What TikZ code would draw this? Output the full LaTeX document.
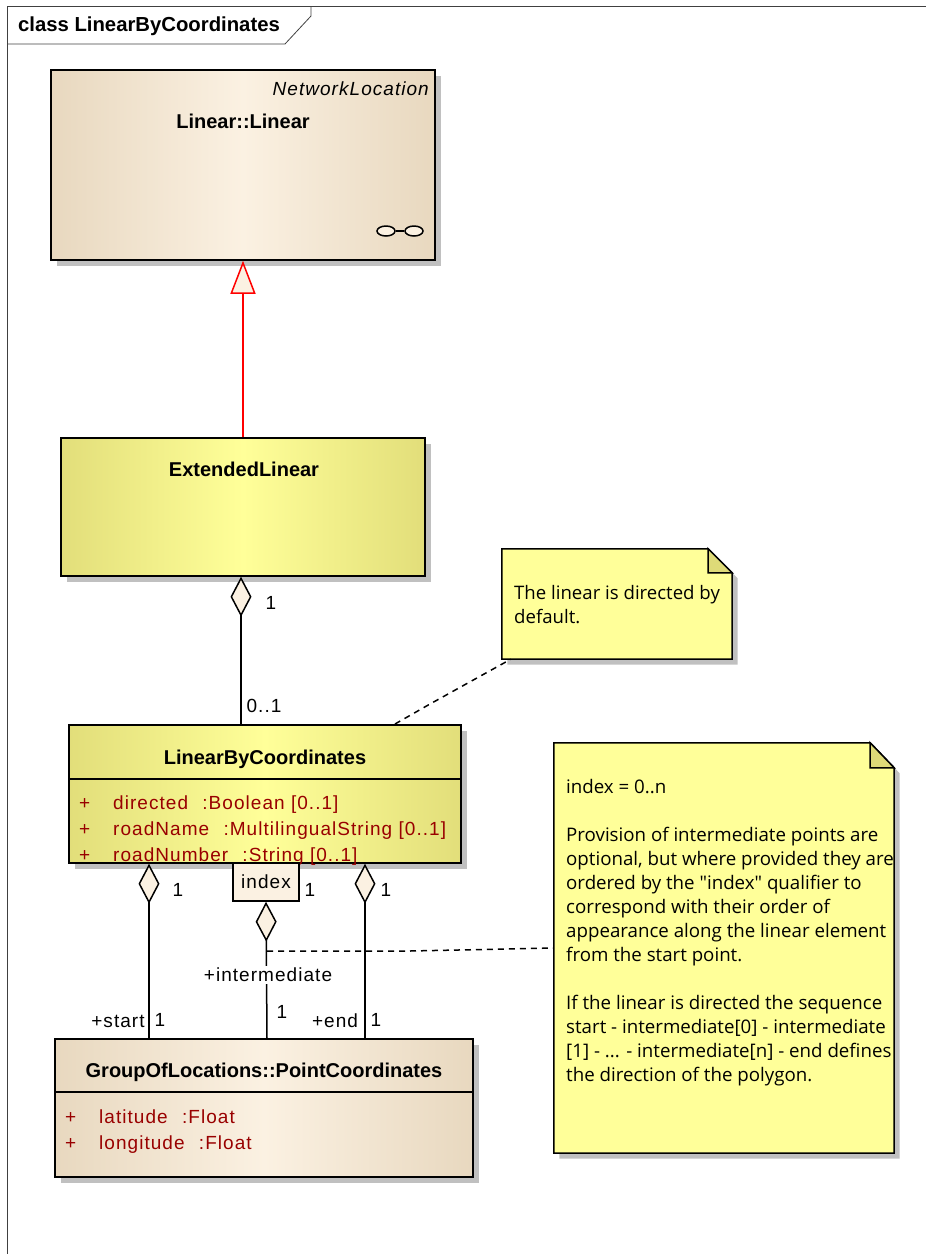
\documentclass[tikz,border=0pt]{standalone}
\usepackage{fontspec}
\setmainfont{Liberation Sans}
\newfontfamily\umlfont[LetterSpace=5.5]{Liberation Sans}
\newfontfamily\notefont{Open Sans}
\usetikzlibrary{arrows.meta,calc,shapes.geometric}
\definecolor{sand}{HTML}{E8D8BF}
\definecolor{cream}{HTML}{FBF1E2}
\definecolor{dullyellow}{HTML}{E2DE7A}
\definecolor{lemon}{HTML}{FFFF99}
\definecolor{foldy}{HTML}{DEDA78}
\definecolor{attrred}{HTML}{990000}
\definecolor{shadowgray}{HTML}{C0C0C0}
\definecolor{framegray}{HTML}{404040}
\begin{document}
\begin{tikzpicture}[x=1pt,y=-1pt,
    boxshadow/.style={preaction={fill=shadowgray,transform canvas={shift={(5.5pt,-5.5pt)}}}},
    sandbox/.style={draw,line width=1.5pt,boxshadow,inner sep=0pt,left color=sand,right color=sand,middle color=cream},
    lemonbox/.style={draw,line width=1.5pt,boxshadow,inner sep=0pt,left color=dullyellow,right color=dullyellow,middle color=lemon},
    classname/.style={font=\fontsize{20}{22}\selectfont\bfseries},
    attr/.style={font=\fontsize{19}{22}\umlfont,text=attrred,anchor=base west,inner sep=0pt},
    lab/.style={font=\fontsize{19}{22}\umlfont,inner sep=0pt},
    aggr/.style={line width=1.5pt,-{Diamond[length=40pt,width=21pt,fill=cream]}},
    dotline/.style={line width=1.5pt,dash pattern=on 6pt off 5pt},
    notepaper/.style={draw,line width=1.5pt,fill=lemon,preaction={fill=shadowgray,transform canvas={shift={(5.5pt,-5.5pt)}}}}]
    \useasboundingbox (0,0) rectangle (926,1254);

    \node[inner sep=0pt,font=\fontsize{20.3}{22}\selectfont\bfseries] (frametitle) at (149,26){class LinearByCoordinates};
    \draw[framegray,line width=.8pt] (926,6) -- (7,6) -- (7,1254);
    \draw[framegray,line width=.8pt] (7,44) -- (285,44) -- (311,16) -- (311,6);

    \node[sandbox,minimum width=384pt,minimum height=190pt] (linear) at (243,165){};
    \node[lab,font=\fontsize{19}{22}\itshape\umlfont,anchor=east] (linearstereo) at (429,89){NetworkLocation};
    \node[classname] (linearname) at (243,121){Linear::Linear};
    \node[draw,ellipse,line width=1.5pt,fill=cream,minimum width=18pt,minimum height=10pt,inner sep=0pt] (eyea) at (386,231){};
    \node[draw,ellipse,line width=1.5pt,fill=cream,minimum width=18pt,minimum height=10pt,inner sep=0pt] (eyeb) at (414,231){};
    \draw[line width=1.5pt] (eyea) -- (eyeb);

    \node[lemonbox,minimum width=364pt,minimum height=138pt] (extended) at (243,507){};
    \node[classname] (extendedname) at (244,469){ExtendedLinear};

    \node[lemonbox,minimum width=392pt,minimum height=138pt] (lbc) at (265,794){};
    \draw[line width=1.5pt] (lbc.west |- 0,779) -- (lbc.east |- 0,779);
    \node[classname] (lbcname) at (265,759){LinearByCoordinates};
    \node[attr] (dirplus) at (79,809){+};
    \node[attr] (dir) at (113,809){directed\hspace{8pt} :Boolean [0..1]};
    \node[attr] (nameplus) at (79,835){+};
    \node[attr] (name) at (113,835){roadName\hspace{8pt} :MultilingualString [0..1]};
    \node[attr] (numplus) at (79,861){+};
    \node[attr] (num) at (113,861){roadNumber\hspace{8pt} :String [0..1]};

    \node[sandbox,minimum width=418pt,minimum height=138pt] (point) at (264,1108){};
    \draw[line width=1.5pt] (point.west |- 0,1092) -- (point.east |- 0,1092);
    \node[classname] (pointname) at (264,1072){GroupOfLocations::PointCoordinates};
    \node[attr] (latplus) at (65,1123){+};
    \node[attr] (lat) at (99,1123){latitude\hspace{8pt} :Float};
    \node[attr] (lonplus) at (65,1149){+};
    \node[attr] (lon) at (99,1149){longitude\hspace{8pt} :Float};

    \node[draw,line width=1.5pt,fill=cream,minimum width=66pt,minimum height=38pt,inner sep=0pt,font=\fontsize{19}{22}\umlfont] (index) at (266,882){index};

    \draw[red,line width=1.5pt,-{Triangle[length=33pt,width=25pt,fill=cream]}] (extended.north) -- (linear.south);
    \draw[aggr] ([xshift=-2pt]lbc.north -| extended.south) -- ([xshift=-2pt]extended.south);
    \draw[aggr] ([xshift=-115pt]point.north) -- ([xshift=-116pt]lbc.south);
    \draw[aggr] ([xshift=3pt]point.north) -- (index.south);
    \draw[aggr] ([xshift=101pt]point.north) -- ([xshift=100pt]lbc.south);

    \node[lab] (uponelabel) at (271,603){1};
    \node[lab] (downonelabel) at (264,706){0..1};
    \node[lab] (startone) at (178,890){1};
    \node[lab] (indexone) at (310,890){1};
    \node[lab] (endone) at (386,890){1};
    \node[lab] (startrole) at (118,1021){+start};
    \node[lab] (startmult) at (160,1020){1};
    \node[lab,fill=white,inner ysep=2pt] (interrole) at (268,975){+intermediate};
    \node[lab] (intermult) at (282,1012){1};
    \node[lab] (endrole) at (335,1021){+end};
    \node[lab] (endmult) at (376,1020){1};

    \node[minimum width=230pt,minimum height=110pt,inner sep=0pt] (notea) at (617,604){};
    \draw[notepaper] (notea.north west) -- ($(notea.north east)+(-24,0)$) -- ($(notea.north east)+(0,24)$) -- (notea.south east) -- (notea.south west) -- cycle;
    \draw[line width=1.5pt,fill=foldy] ($(notea.north east)+(-24,0)$) -- ($(notea.north east)+(0,24)$) -- ($(notea.north east)+(-24,24)$) -- cycle;
    \node[anchor=north west,inner sep=0pt,align=left,font=\fontsize{18.6}{24}\notefont] (noteatext) at (514,585){The linear is directed by\\default.};

    \node[minimum width=340pt,minimum height=410pt,inner sep=0pt] (noteb) at (724,948){};
    \draw[notepaper] (noteb.north west) -- ($(noteb.north east)+(-24,0)$) -- ($(noteb.north east)+(0,25)$) -- (noteb.south east) -- (noteb.south west) -- cycle;
    \draw[line width=1.5pt,fill=foldy] ($(noteb.north east)+(-24,0)$) -- ($(noteb.north east)+(0,25)$) -- ($(noteb.north east)+(-24,25)$) -- cycle;
    \node[anchor=north west,inner sep=0pt,align=left,font=\fontsize{18.7}{24}\notefont] (notebtext) at (566,779){index = 0..n\\[24pt]Provision of intermediate points are\\optional, but where provided they are\\ordered by the "index" qualifier to\\correspond with their order of\\appearance along the linear element\\from the start point.\\[24pt]If the linear is directed the sequence\\start - intermediate[0] - intermediate\\{[1]} - ... - intermediate[n] - end defines\\the direction of the polygon.};

    \coordinate (lbcnote) at (395,724);
    \coordinate (bendnote) at (430,704);
    \coordinate (interdash) at (267,951);
    \coordinate (benddash) at (410,951);
    \draw[dotline] (lbcnote) -- (bendnote) -- ([xshift=9pt]notea.south west);
    \draw[dotline] (interdash) -- (benddash) -- (noteb.west);
\end{tikzpicture}
\end{document}
